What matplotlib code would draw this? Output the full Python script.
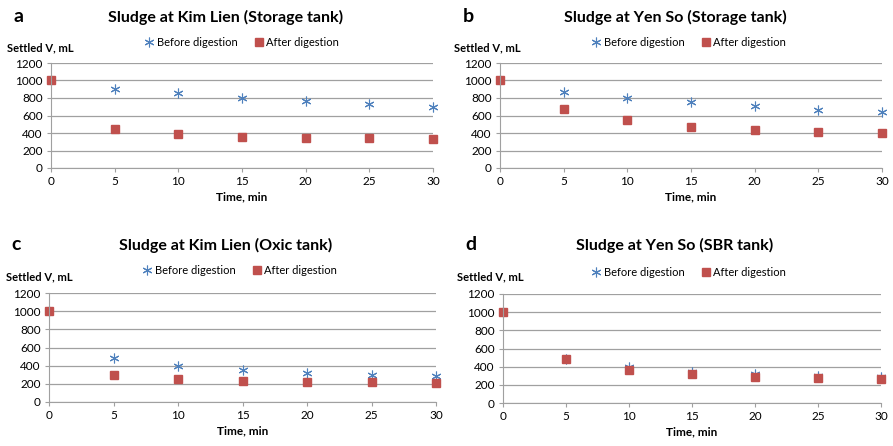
import matplotlib
matplotlib.use("Agg")
import matplotlib.pyplot as plt

plt.rcParams['font.family'] = ['Lato', 'DejaVu Sans']

# settling time (min)
time_min = [0, 5, 10, 15, 20, 25, 30]

# settled volume, mL
kl_storage_before = [1000, 900, 860, 800, 770, 730, 700]
kl_storage_after = [1000, 450, 385, 360, 345, 340, 330]
ys_storage_before = [1000, 865, 800, 750, 705, 665, 645]
ys_storage_after = [1000, 680, 545, 470, 430, 410, 400]
kl_oxic_before = [1000, 485, 400, 355, 320, 300, 290]
kl_oxic_after = [1000, 300, 255, 235, 225, 215, 210]
ys_sbr_before = [1000, 485, 400, 340, 320, 300, 290]
ys_sbr_after = [1000, 485, 365, 315, 290, 270, 260]

titles = ["Sludge at Kim Lien (Storage tank)", "Sludge at Yen So (Storage tank)",
          "Sludge at Kim Lien (Oxic tank)", "Sludge at Yen So (SBR tank)"]
letters = ["a", "b", "c", "d"]
before = [kl_storage_before, ys_storage_before, kl_oxic_before, ys_sbr_before]
after = [kl_storage_after, ys_storage_after, kl_oxic_after, ys_sbr_after]

BLUE = "#4F81BD"
RED = "#C0504D"
W, H = 893.0, 446.0

# axes boxes in pixels: left, top, right, bottom
boxes = [(51, 63, 433, 168), (500, 63, 882, 168),
         (49, 293, 436, 402), (503, 294, 881, 403)]
title_pos = [(226, 17), (675, 17), (226, 245), (675, 245)]
letter_pos = [(14, 17), (463, 17), (11, 245), (465, 245)]
legend_pos = [(242, 42), (689, 42), (240, 270), (689, 272)]
ylabel_pos = [(7, 48), (454, 48), (6, 277), (457, 277)]

fig = plt.figure(figsize=(W / 100, H / 100), dpi=100)

for i in range(4):
    l, t, r, b = boxes[i]
    ax = fig.add_axes([l / W, 1 - b / H, (r - l) / W, (b - t) / H])
    ax.plot(time_min, before[i], linestyle="none", marker=(6, 2, 0), markersize=7,
            markeredgewidth=0.8, color=BLUE, label="Before digestion")
    ax.plot(time_min, after[i], linestyle="none", marker="s", markersize=6,
            color=RED, label="After digestion")
    ax.set_xlim(0, 30)
    ax.set_ylim(0, 1200)
    ax.set_xticks(range(0, 31, 5))
    ax.set_yticks(range(0, 1201, 200))
    ax.grid(axis="y", color="#A0A0A0", linewidth=0.9)
    ax.set_axisbelow(True)
    for s in ["top", "right"]:
        ax.spines[s].set_visible(False)
    for s in ["left", "bottom"]:
        ax.spines[s].set_color("#A0A0A0")
    ax.tick_params(labelsize=8.5, length=3, color="#A0A0A0", pad=3)
    for m in ax.lines:
        m.set_clip_on(False)
    ax.set_xlabel("Time, min", fontsize=8.5, fontweight="bold", labelpad=3)

    fig.text(title_pos[i][0] / W, 1 - title_pos[i][1] / H, titles[i],
             ha="center", va="center", fontsize=11.5, fontweight="bold")
    fig.text(letter_pos[i][0] / W, 1 - letter_pos[i][1] / H, letters[i],
             ha="left", va="center", fontsize=14, fontweight="bold")
    fig.text(ylabel_pos[i][0] / W, 1 - ylabel_pos[i][1] / H, "Settled V, mL",
             ha="left", va="center", fontsize=8, fontweight="bold")
    ax.legend(loc="center", bbox_to_anchor=(legend_pos[i][0] / W, 1 - legend_pos[i][1] / H),
              bbox_transform=fig.transFigure, ncol=2, frameon=False, fontsize=8,
              handlelength=0.8, handletextpad=0.3, columnspacing=1.5, borderpad=0)

fig.savefig("out.png", dpi=100)
